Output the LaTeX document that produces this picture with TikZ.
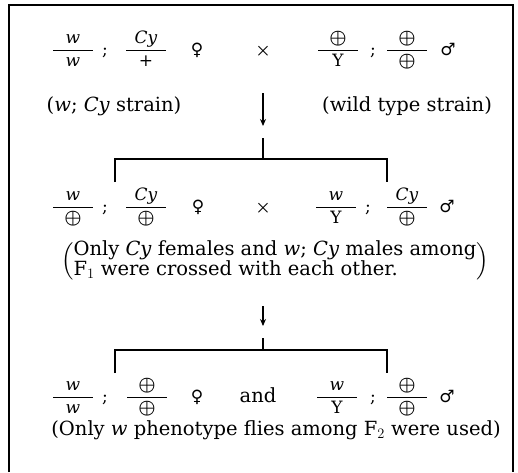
\documentclass[tikz,border=0pt]{standalone}
\usepackage{amsmath}
\usepackage{fontspec}
\setmainfont{DejaVu Serif}
\newfontfamily\sexfont{DejaVu Sans}
\usetikzlibrary{arrows.meta}

\newcommand{\wtype}{\scalebox{1.12}{$\boldsymbol{\oplus}$}}
\newcommand{\gfrac}[2]{$\displaystyle\frac{\makebox[40pt]{#1}}{\mbox{#2}}$}

\begin{document}
\begin{tikzpicture}[
  x=1pt, y=-1pt,
  font=\fontsize{19.5}{18}\selectfont,
  gene/.style={anchor=base, inner sep=0pt, font=\fontsize{17}{18}\selectfont},
  note/.style={anchor=base, inner sep=0pt},
  link/.style={line width=1.1pt},
  arrow/.style={-{Stealth[length=7pt,width=6pt]}, line width=1.1pt},
]
  \useasboundingbox (0,0) rectangle (518,472);
  \draw[line width=1.5pt] (9,472) -- (9,5) -- (513,5) -- (513,472);

  % parents
  \node[gene] (p1a) at (73,55) {\gfrac{\textit{w}}{\textit{w}}};
  \node[gene] (s1a) at (105,55) {;};
  \node[gene] (p1b) at (146,55) {\gfrac{\textit{Cy}}{+}};
  \node[gene] (x1f) at (197,55) {\sexfont ♀};
  \node[gene] (x1)  at (263,55) {$\boldsymbol{\times}$};
  \node[gene] (p1c) at (338,55) {\gfrac{\wtype}{Y}};
  \node[gene] (s1b) at (373,55) {;};
  \node[gene] (p1d) at (407,55) {\gfrac{\wtype}{\wtype}};
  \node[gene] (x1m) at (448,55) {\sexfont ♂};
  \node[note] (n1a) at (114,111) {(\textit{w}; \textit{Cy} strain)};
  \node[note] (n1b) at (407,111) {(wild type strain)};

  \coordinate (a1s) at (263,93);
  \coordinate (a1e) at (263,126);
  \coordinate (b1t) at (263,138);
  \coordinate (b1m) at (263,159);
  \coordinate (b1l) at (115,182);
  \coordinate (b1r) at (387,182);
  \draw[arrow] (a1s) -- (a1e);
  \draw[link] (b1t) -- (b1m);
  \draw[link] (b1l) |- (b1m) -| (b1r);

  % F1
  \node[gene] (p2a) at (73,212) {\gfrac{\textit{w}}{\wtype}};
  \node[gene] (s2a) at (105,212) {;};
  \node[gene] (p2b) at (146,212) {\gfrac{\textit{Cy}}{\wtype}};
  \node[gene] (x2f) at (198,212) {\sexfont ♀};
  \node[gene] (x2)  at (263,212) {$\boldsymbol{\times}$};
  \node[gene] (p2c) at (336,212) {\gfrac{\textit{w}}{Y}};
  \node[gene] (s2b) at (368,212) {;};
  \node[gene] (p2d) at (407,212) {\gfrac{\textit{Cy}}{\wtype}};
  \node[gene] (x2m) at (447,212) {\sexfont ♂};
  \node[inner sep=0pt] (n2) at (275,261)
    {$\left(\begin{tabular}{@{}l@{}}Only \textit{Cy} females and \textit{w}; \textit{Cy} males among\\
     F$_1$ were crossed with each other.\end{tabular}\right)$};

  \coordinate (a2s) at (263,306);
  \coordinate (a2e) at (263,326);
  \coordinate (b2t) at (263,338);
  \coordinate (b2m) at (263,350);
  \coordinate (b2l) at (115,373);
  \coordinate (b2r) at (387,373);
  \draw[arrow] (a2s) -- (a2e);
  \draw[link] (b2t) -- (b2m);
  \draw[link] (b2l) |- (b2m) -| (b2r);

  % F2
  \node[gene] (p3a) at (73,402) {\gfrac{\textit{w}}{\textit{w}}};
  \node[gene] (s3a) at (105,402) {;};
  \node[gene] (p3b) at (147,402) {\gfrac{\wtype}{\wtype}};
  \node[gene] (x3f) at (197,402) {\sexfont ♀};
  \node[gene] (and) at (258,402) {\fontsize{19.5}{18}\selectfont and};
  \node[gene] (p3c) at (337,402) {\gfrac{\textit{w}}{Y}};
  \node[gene] (s3b) at (373,402) {;};
  \node[gene] (p3d) at (407,402) {\gfrac{\wtype}{\wtype}};
  \node[gene] (x3m) at (447,402) {\sexfont ♂};
  \node[note] (n3) at (276,435) {(Only \textit{w} phenotype flies among F$_2$ were used)};
\end{tikzpicture}
\end{document}
